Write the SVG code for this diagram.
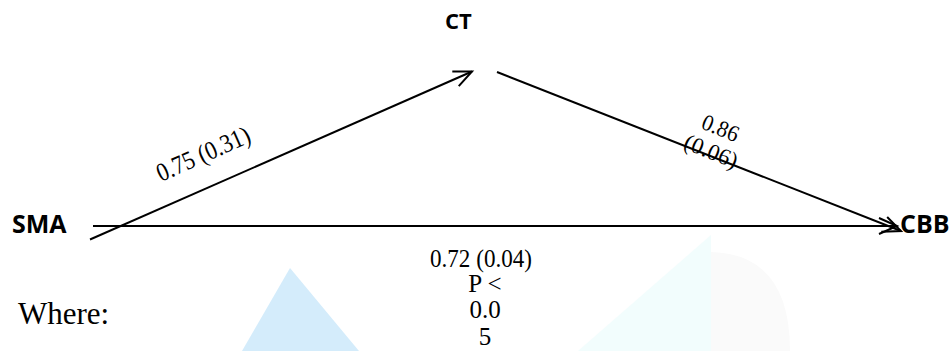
<svg xmlns="http://www.w3.org/2000/svg" width="950" height="351" viewBox="0 0 950 351">
  <style>
    .node { font-family: "Open Sans", "Liberation Sans", sans-serif; font-weight: 700; fill: #000; }
    .lbl { font-family: "Liberation Serif", "Times New Roman", serif; fill: #000; }
    .edge { stroke: #000; stroke-width: 2; fill: none; }
  </style>
  <defs>
    <marker id="arr" markerUnits="userSpaceOnUse" markerWidth="24" markerHeight="24" refX="0" refY="0" viewBox="-22 -12 24 24" orient="auto" overflow="visible">
      <path d="M-18,-8 L0,0 L-18,8" fill="none" stroke="#000" stroke-width="2"/>
    </marker>
  </defs>
  <rect width="950" height="351" fill="#fff"/>
  <g id="watermark">
    <path d="M711,252 Q790,254 790,351 L711,351 Z" fill="#fafafa"/>
    <polygon points="711,235 711,351 578,351" fill="#f2fdfd"/>
    <polygon points="290,268 359,351 242,351" fill="#d4ecfb"/>
  </g>
  <g id="connectors">
    <line class="edge" x1="90" y1="239.5" x2="472" y2="71.5" marker-end="url(#arr)"/>
    <line class="edge" x1="497" y1="72" x2="901" y2="231" marker-end="url(#arr)"/>
    <line class="edge" x1="93" y1="226" x2="897" y2="226" marker-end="url(#arr)"/>
  </g>
  <g id="edge-labels">
    <text class="lbl" font-size="26" textLength="100" lengthAdjust="spacingAndGlyphs" transform="translate(161,182) rotate(-24)">0.75 (0.31)</text>
    <text class="lbl" font-size="23" transform="translate(700,128) rotate(22)"><tspan x="0" y="0" textLength="38" lengthAdjust="spacingAndGlyphs">0.86</tspan><tspan x="-9" y="25" textLength="56" lengthAdjust="spacingAndGlyphs">(0.06)</tspan></text>
    <text class="lbl" font-size="25" x="430" y="267" textLength="102" lengthAdjust="spacingAndGlyphs">0.72 (0.04)</text>
    <text class="lbl" font-size="25" text-anchor="middle" x="485" y="292">P &lt;</text>
    <text class="lbl" font-size="25" text-anchor="middle" x="485" y="318">0.0</text>
    <text class="lbl" font-size="25" text-anchor="middle" x="485" y="345">5</text>
    <text class="lbl" font-size="31" x="18" y="324">Where:</text>
  </g>
  <g id="node-CT"><text class="node" font-size="22" x="445" y="29">CT</text></g>
  <g id="node-SMA"><text class="node" font-size="25" x="12" y="233">SMA</text></g>
  <g id="node-CBB"><text class="node" font-size="25" x="900" y="233">CBB</text></g>
</svg>
